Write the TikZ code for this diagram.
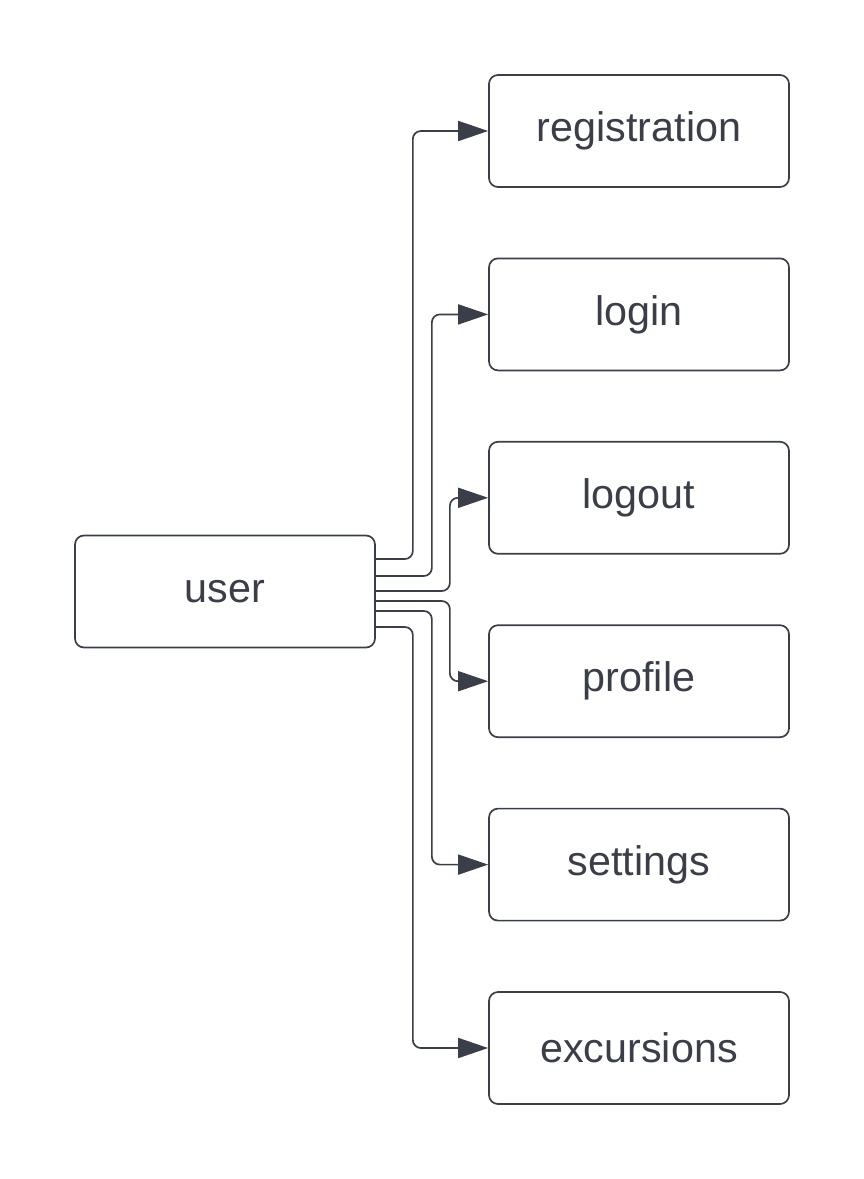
\documentclass[tikz,border=0pt]{standalone}
\usepackage{fontspec}
\setmainfont{Liberation Sans}
\usetikzlibrary{positioning, arrows.meta}
\definecolor{ink}{HTML}{3A3E48}

\begin{document}
\begin{tikzpicture}[
    x=1pt, y=1pt,
    node distance=69.7pt,
    every node/.style={draw=ink, line width=1.7pt, rectangle, rounded corners=9pt, text=ink,
        font=\fontsize{41.3}{48}\selectfont, minimum width=300pt, minimum height=112pt, inner sep=0pt},
    conn/.style={draw=ink, line width=1.7pt, rounded corners=8pt, -{Triangle[length=30pt, width=20pt]}}
]
\useasboundingbox (0,0) rectangle (864,-1179);
\node (user) at (225,-591.5) {user};
\node (reg) at (639,-131) {registration};
\node (login) [below=of reg] {login};
\node (logout) [below=of login] {logout};
\node (profile) [below=of logout] {profile};
\node (settings) [below=of profile] {settings};
\node (excur) [below=of settings] {excursions};
\draw[conn] ([yshift=32.5pt]user.east) -- ++(37,0) |- (reg.west);
\draw[conn] ([yshift=15.5pt]user.east) -- ++(56,0) |- (login.west);
\draw[conn] ([yshift=0.5pt]user.east) -- ++(74,0) |- (logout.west);
\draw[conn] ([yshift=-9.5pt]user.east) -- ++(74,0) |- (profile.west);
\draw[conn] ([yshift=-19.5pt]user.east) -- ++(56,0) |- (settings.west);
\draw[conn] ([yshift=-35.5pt]user.east) -- ++(37,0) |- (excur.west);
\end{tikzpicture}
\end{document}
